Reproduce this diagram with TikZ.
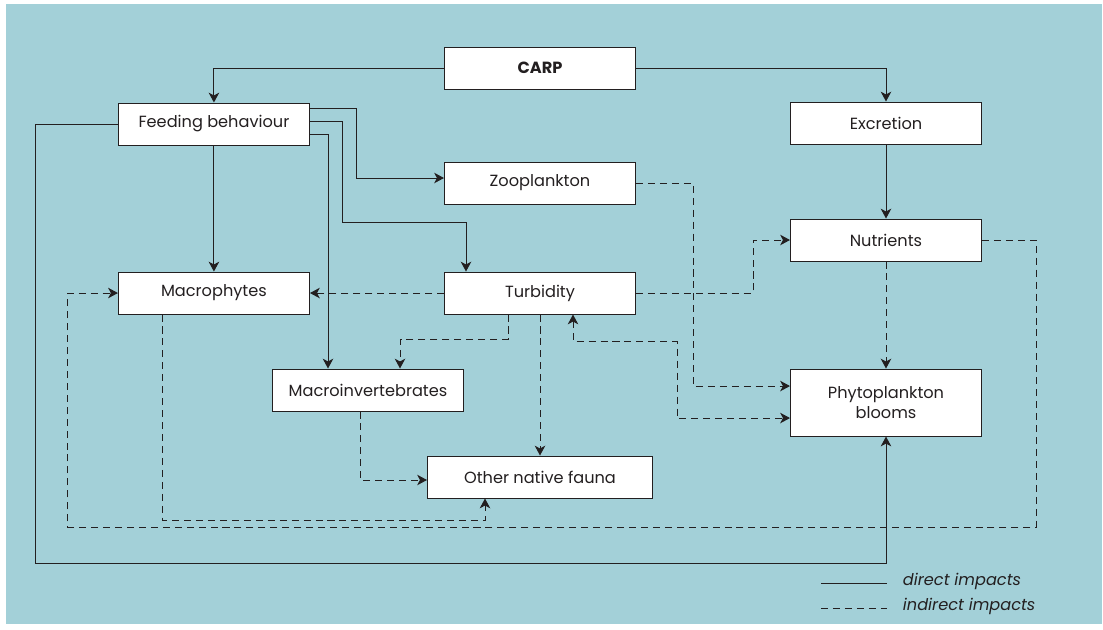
\documentclass[tikz,border=0pt]{standalone}
\usepackage{fontspec}
\setmainfont{Poppins}
\usetikzlibrary{
	positioning,
	calc,
	arrows.meta
}
\definecolor{PondBlue}{RGB}{163,208,216}
\definecolor{InkDark}{RGB}{35,31,32}

\begin{document}
\begin{tikzpicture}[
	x=0.025cm, y=-0.025cm,
	font=\fontsize{11.5}{14}\selectfont,
	>={Stealth[length=7pt,width=7.5pt,inset=2pt]},
	box/.style={
		draw=InkDark,
		fill=white,
		line width=.7pt,
		text=InkDark,
		minimum width=4.775cm,
		minimum height=1.05cm,
		inner sep=0pt
	},
	direct/.style={
		->,
		InkDark,
		line width=.7pt
	},
	indirect/.style={
		direct,
		dash pattern=on 5pt off 3.5pt
	}
	]
	
	\useasboundingbox (0,0) rectangle (1103,630);
	\fill[PondBlue] (6,4) rectangle (1102,624);
	
	\node[
	box
	]
	(CARP) at (540,68)
	{\bfseries CARP};
	
	\node[
	box,
	below=1.8cm of CARP
	]
	(ZOO)
	{Zooplankton};
	
	\node[
	box,
	below=1.675cm of ZOO
	]
	(TUR)
	{Turbidity};
	
	\node[
	box,
	left=3.35cm of TUR
	]
	(MAC)
	{Macrophytes};
	
	\node[
	box,
	above=3.15cm of MAC
	]
	(FB)
	{Feeding behaviour};
	
	\node[
	box
	]
	(EXC) at (886,123)
	{Excretion};
	
	\node[
	box,
	below=1.85cm of EXC
	]
	(NUT)
	{Nutrients};
	
	\node[
	box,
	below=2.675cm of NUT,
	minimum height=1.675cm,
	align=center
	]
	(PHY)
	{Phytoplankton\\blooms};
	
	\node[
	box
	]
	(MINV) at (368,390)
	{Macroinvertebrates};
	
	\node[
	box,
	minimum width=5.625cm
	]
	(OTH) at (540,477)
	{Other native fauna};
	
	% direct impacts
	\draw[direct] (CARP.west) -| (FB.north);
	\draw[direct] (CARP.east) -| (EXC.north);
	\draw[direct] (EXC) -- (NUT);
	\draw[direct] (FB.south) -- (FB.south |- MAC.north);
	\draw[direct] ($(FB.east)+(0,-15.5)$) -| ($(ZOO.west)+(-87,-5)$) -- ++(87,0);
	\draw[direct] ($(FB.east)+(0,-2.5)$) -| (342,222) -| ($(TUR.north)+(-74,0)$);
	\draw[direct] ($(FB.east)+(0,10.5)$) -| ($(MINV.north)+(-40,0)$);
	\draw[direct] (FB.west) -| (35,563) -| (PHY.south);
	
	% indirect impacts
	\draw[indirect] (ZOO.east) -| ($(PHY.west)+(-97,-16.5)$) -- ++(97,0);
	\draw[indirect] (TUR.east) -| ($(NUT.west)+(-37,0)$) -- (NUT.west);
	\draw[indirect] (TUR.west) -- (MAC.east);
	\draw[indirect] ($(TUR.south)+(-32,0)$) -- ++(0,25) -| ($(MINV.north)+(32,0)$);
	\draw[indirect] (TUR) -- (OTH);
	\draw[indirect, <->] ($(TUR.south)+(33,0)$) -- ++(0,27) -| ($(PHY.west)+(-113,15.5)$) -- ++(113,0);
	\draw[indirect] (NUT) -- (PHY);
	\draw[indirect] ($(MINV.south)+(-8,0)$) |- ($(OTH.west)+(0,3)$);
	\draw[indirect] ($(MAC.south)+(-51,0)$) -- ++(0,206) -| ($(OTH.south)+(-55,0)$);
	\draw[indirect] (NUT.east) -| (1036,527) -| ($(MAC.west)+(-50,0)$) -- (MAC.west);
	
	% legend
	\node[
	anchor=west,
	text=InkDark,
	font=\fontsize{11.5}{14}\selectfont\itshape
	]
	(dlab) at (898,581)
	{direct impacts};
	
	\node[
	anchor=west,
	text=InkDark,
	font=\fontsize{11.5}{14}\selectfont\itshape
	]
	(ilab) at (898,606)
	{indirect impacts};
	
	\coordinate (d1) at (821,583);
	\coordinate (d2) at (887,583);
	\coordinate (i1) at (821,608);
	\coordinate (i2) at (887,608);
	\draw[InkDark, line width=.7pt] (d1) -- (d2);
	\draw[InkDark, line width=.7pt, dash pattern=on 5pt off 3.5pt] (i1) -- (i2);
	
\end{tikzpicture}
\end{document}
